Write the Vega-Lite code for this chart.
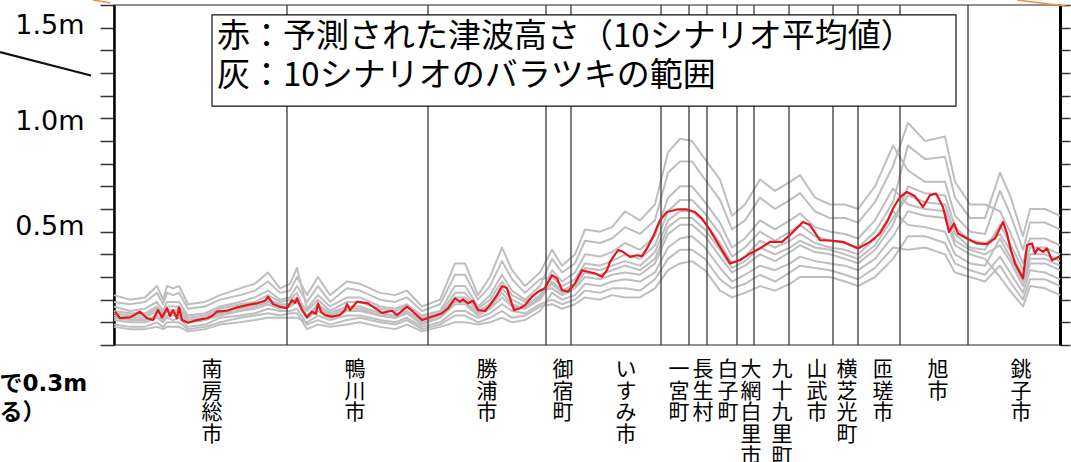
{
  "$schema": "https://vega.github.io/schema/vega-lite/v6.json",
  "width": 946,
  "height": 340,
  "autosize": {"type": "none"},
  "padding": {"left": 114, "top": 5, "right": 11, "bottom": 117},
  "background": "white",
  "config": {"view": {"stroke": "#6e6e6e", "strokeWidth": 1.5}},
  "datasets": {
    "scenarios": [
      {"x": 0, "s1": 0.22, "s2": 0.19, "s3": 0.17, "s4": 0.15, "s5": 0.14, "s6": 0.13, "s7": 0.12, "s8": 0.11, "s9": 0.09, "s10": 0.08},
      {"x": 16, "s1": 0.20, "s2": 0.18, "s3": 0.15, "s4": 0.14, "s5": 0.13, "s6": 0.12, "s7": 0.11, "s8": 0.10, "s9": 0.08, "s10": 0.07},
      {"x": 31, "s1": 0.21, "s2": 0.19, "s3": 0.16, "s4": 0.14, "s5": 0.13, "s6": 0.12, "s7": 0.11, "s8": 0.10, "s9": 0.08, "s10": 0.07},
      {"x": 43, "s1": 0.26, "s2": 0.23, "s3": 0.19, "s4": 0.17, "s5": 0.16, "s6": 0.15, "s7": 0.13, "s8": 0.12, "s9": 0.10, "s10": 0.08},
      {"x": 49, "s1": 0.20, "s2": 0.18, "s3": 0.15, "s4": 0.14, "s5": 0.13, "s6": 0.12, "s7": 0.11, "s8": 0.10, "s9": 0.08, "s10": 0.07},
      {"x": 53, "s1": 0.26, "s2": 0.23, "s3": 0.19, "s4": 0.17, "s5": 0.16, "s6": 0.15, "s7": 0.13, "s8": 0.12, "s9": 0.10, "s10": 0.08},
      {"x": 59, "s1": 0.25, "s2": 0.22, "s3": 0.19, "s4": 0.17, "s5": 0.15, "s6": 0.14, "s7": 0.13, "s8": 0.11, "s9": 0.10, "s10": 0.08},
      {"x": 65, "s1": 0.26, "s2": 0.23, "s3": 0.19, "s4": 0.17, "s5": 0.16, "s6": 0.15, "s7": 0.13, "s8": 0.12, "s9": 0.10, "s10": 0.08},
      {"x": 74, "s1": 0.18, "s2": 0.16, "s3": 0.13, "s4": 0.12, "s5": 0.11, "s6": 0.10, "s7": 0.10, "s8": 0.08, "s9": 0.07, "s10": 0.06},
      {"x": 91, "s1": 0.19, "s2": 0.17, "s3": 0.14, "s4": 0.13, "s5": 0.12, "s6": 0.11, "s7": 0.11, "s8": 0.09, "s9": 0.08, "s10": 0.07},
      {"x": 106, "s1": 0.22, "s2": 0.20, "s3": 0.17, "s4": 0.16, "s5": 0.15, "s6": 0.14, "s7": 0.13, "s8": 0.12, "s9": 0.10, "s10": 0.09},
      {"x": 126, "s1": 0.25, "s2": 0.22, "s3": 0.19, "s4": 0.18, "s5": 0.16, "s6": 0.15, "s7": 0.15, "s8": 0.13, "s9": 0.12, "s10": 0.10},
      {"x": 141, "s1": 0.27, "s2": 0.24, "s3": 0.21, "s4": 0.19, "s5": 0.18, "s6": 0.17, "s7": 0.16, "s8": 0.14, "s9": 0.13, "s10": 0.11},
      {"x": 154, "s1": 0.32, "s2": 0.28, "s3": 0.24, "s4": 0.22, "s5": 0.20, "s6": 0.19, "s7": 0.18, "s8": 0.16, "s9": 0.14, "s10": 0.12},
      {"x": 166, "s1": 0.25, "s2": 0.23, "s3": 0.20, "s4": 0.19, "s5": 0.18, "s6": 0.17, "s7": 0.16, "s8": 0.15, "s9": 0.13, "s10": 0.12},
      {"x": 176, "s1": 0.27, "s2": 0.24, "s3": 0.21, "s4": 0.20, "s5": 0.18, "s6": 0.17, "s7": 0.17, "s8": 0.15, "s9": 0.14, "s10": 0.12},
      {"x": 183, "s1": 0.34, "s2": 0.30, "s3": 0.26, "s4": 0.23, "s5": 0.21, "s6": 0.20, "s7": 0.19, "s8": 0.16, "s9": 0.14, "s10": 0.12},
      {"x": 193, "s1": 0.16, "s2": 0.22, "s3": 0.19, "s4": 0.12, "s5": 0.15, "s6": 0.12, "s7": 0.13, "s8": 0.09, "s9": 0.07, "s10": 0.10},
      {"x": 204, "s1": 0.22, "s2": 0.30, "s3": 0.26, "s4": 0.17, "s5": 0.20, "s6": 0.15, "s7": 0.18, "s8": 0.11, "s9": 0.09, "s10": 0.13},
      {"x": 216, "s1": 0.17, "s2": 0.22, "s3": 0.19, "s4": 0.13, "s5": 0.15, "s6": 0.12, "s7": 0.14, "s8": 0.09, "s9": 0.08, "s10": 0.11},
      {"x": 233, "s1": 0.21, "s2": 0.28, "s3": 0.25, "s4": 0.16, "s5": 0.19, "s6": 0.15, "s7": 0.17, "s8": 0.11, "s9": 0.09, "s10": 0.13},
      {"x": 246, "s1": 0.21, "s2": 0.27, "s3": 0.24, "s4": 0.16, "s5": 0.19, "s6": 0.15, "s7": 0.17, "s8": 0.12, "s9": 0.10, "s10": 0.13},
      {"x": 266, "s1": 0.17, "s2": 0.23, "s3": 0.20, "s4": 0.13, "s5": 0.16, "s6": 0.13, "s7": 0.14, "s8": 0.10, "s9": 0.08, "s10": 0.11},
      {"x": 281, "s1": 0.16, "s2": 0.22, "s3": 0.19, "s4": 0.12, "s5": 0.15, "s6": 0.12, "s7": 0.13, "s8": 0.09, "s9": 0.07, "s10": 0.10},
      {"x": 293, "s1": 0.18, "s2": 0.24, "s3": 0.21, "s4": 0.14, "s5": 0.17, "s6": 0.14, "s7": 0.15, "s8": 0.11, "s9": 0.09, "s10": 0.12},
      {"x": 308, "s1": 0.13, "s2": 0.17, "s3": 0.15, "s4": 0.10, "s5": 0.12, "s6": 0.09, "s7": 0.11, "s8": 0.07, "s9": 0.06, "s10": 0.08},
      {"x": 326, "s1": 0.15, "s2": 0.20, "s3": 0.18, "s4": 0.12, "s5": 0.14, "s6": 0.12, "s7": 0.13, "s8": 0.09, "s9": 0.08, "s10": 0.10},
      {"x": 341, "s1": 0.26, "s2": 0.36, "s3": 0.31, "s4": 0.19, "s5": 0.23, "s6": 0.18, "s7": 0.21, "s8": 0.13, "s9": 0.10, "s10": 0.15},
      {"x": 351, "s1": 0.26, "s2": 0.36, "s3": 0.31, "s4": 0.19, "s5": 0.23, "s6": 0.18, "s7": 0.21, "s8": 0.13, "s9": 0.10, "s10": 0.15},
      {"x": 364, "s1": 0.17, "s2": 0.22, "s3": 0.20, "s4": 0.14, "s5": 0.16, "s6": 0.13, "s7": 0.15, "s8": 0.10, "s9": 0.09, "s10": 0.12},
      {"x": 376, "s1": 0.22, "s2": 0.30, "s3": 0.26, "s4": 0.17, "s5": 0.20, "s6": 0.16, "s7": 0.18, "s8": 0.12, "s9": 0.10, "s10": 0.14},
      {"x": 388, "s1": 0.31, "s2": 0.43, "s3": 0.37, "s4": 0.23, "s5": 0.28, "s6": 0.21, "s7": 0.25, "s8": 0.15, "s9": 0.12, "s10": 0.18},
      {"x": 398, "s1": 0.24, "s2": 0.33, "s3": 0.29, "s4": 0.18, "s5": 0.22, "s6": 0.17, "s7": 0.20, "s8": 0.12, "s9": 0.10, "s10": 0.15},
      {"x": 411, "s1": 0.20, "s2": 0.26, "s3": 0.23, "s4": 0.16, "s5": 0.19, "s6": 0.16, "s7": 0.17, "s8": 0.13, "s9": 0.11, "s10": 0.14},
      {"x": 426, "s1": 0.26, "s2": 0.32, "s3": 0.29, "s4": 0.21, "s5": 0.24, "s6": 0.20, "s7": 0.22, "s8": 0.17, "s9": 0.15, "s10": 0.18},
      {"x": 438, "s1": 0.38, "s2": 0.42, "s3": 0.30, "s4": 0.33, "s5": 0.25, "s6": 0.28, "s7": 0.27, "s8": 0.18, "s9": 0.23, "s10": 0.20},
      {"x": 448, "s1": 0.32, "s2": 0.35, "s3": 0.26, "s4": 0.28, "s5": 0.22, "s6": 0.24, "s7": 0.23, "s8": 0.16, "s9": 0.20, "s10": 0.18},
      {"x": 461, "s1": 0.36, "s2": 0.40, "s3": 0.29, "s4": 0.32, "s5": 0.25, "s6": 0.27, "s7": 0.26, "s8": 0.18, "s9": 0.22, "s10": 0.20},
      {"x": 471, "s1": 0.46, "s2": 0.51, "s3": 0.36, "s4": 0.40, "s5": 0.30, "s6": 0.34, "s7": 0.32, "s8": 0.21, "s9": 0.27, "s10": 0.24},
      {"x": 486, "s1": 0.45, "s2": 0.50, "s3": 0.35, "s4": 0.39, "s5": 0.29, "s6": 0.33, "s7": 0.31, "s8": 0.20, "s9": 0.26, "s10": 0.23},
      {"x": 498, "s1": 0.47, "s2": 0.52, "s3": 0.37, "s4": 0.41, "s5": 0.31, "s6": 0.35, "s7": 0.33, "s8": 0.22, "s9": 0.28, "s10": 0.25},
      {"x": 511, "s1": 0.52, "s2": 0.59, "s3": 0.40, "s4": 0.45, "s5": 0.32, "s6": 0.37, "s7": 0.35, "s8": 0.21, "s9": 0.29, "s10": 0.25},
      {"x": 526, "s1": 0.49, "s2": 0.55, "s3": 0.38, "s4": 0.42, "s5": 0.31, "s6": 0.35, "s7": 0.33, "s8": 0.21, "s9": 0.28, "s10": 0.24},
      {"x": 541, "s1": 0.55, "s2": 0.62, "s3": 0.44, "s4": 0.48, "s5": 0.36, "s6": 0.41, "s7": 0.38, "s8": 0.25, "s9": 0.32, "s10": 0.29},
      {"x": 554, "s1": 0.76, "s2": 0.85, "s3": 0.59, "s4": 0.65, "s5": 0.49, "s6": 0.55, "s7": 0.52, "s8": 0.33, "s9": 0.43, "s10": 0.38},
      {"x": 566, "s1": 0.81, "s2": 0.91, "s3": 0.64, "s4": 0.70, "s5": 0.53, "s6": 0.59, "s7": 0.56, "s8": 0.36, "s9": 0.47, "s10": 0.42},
      {"x": 578, "s1": 0.81, "s2": 0.90, "s3": 0.64, "s4": 0.70, "s5": 0.53, "s6": 0.59, "s7": 0.56, "s8": 0.37, "s9": 0.48, "s10": 0.42},
      {"x": 591, "s1": 0.73, "s2": 0.82, "s3": 0.58, "s4": 0.63, "s5": 0.48, "s6": 0.54, "s7": 0.51, "s8": 0.33, "s9": 0.43, "s10": 0.38},
      {"x": 606, "s1": 0.64, "s2": 0.73, "s3": 0.49, "s4": 0.54, "s5": 0.39, "s6": 0.45, "s7": 0.42, "s8": 0.24, "s9": 0.34, "s10": 0.29},
      {"x": 618, "s1": 0.51, "s2": 0.57, "s3": 0.39, "s4": 0.43, "s5": 0.32, "s6": 0.36, "s7": 0.34, "s8": 0.21, "s9": 0.28, "s10": 0.25},
      {"x": 631, "s1": 0.55, "s2": 0.62, "s3": 0.43, "s4": 0.47, "s5": 0.35, "s6": 0.39, "s7": 0.37, "s8": 0.23, "s9": 0.31, "s10": 0.27},
      {"x": 646, "s1": 0.65, "s2": 0.73, "s3": 0.50, "s4": 0.55, "s5": 0.40, "s6": 0.46, "s7": 0.43, "s8": 0.26, "s9": 0.35, "s10": 0.31},
      {"x": 661, "s1": 0.60, "s2": 0.68, "s3": 0.46, "s4": 0.51, "s5": 0.37, "s6": 0.43, "s7": 0.40, "s8": 0.24, "s9": 0.33, "s10": 0.28},
      {"x": 676, "s1": 0.64, "s2": 0.72, "s3": 0.50, "s4": 0.55, "s5": 0.41, "s6": 0.46, "s7": 0.43, "s8": 0.27, "s9": 0.36, "s10": 0.32},
      {"x": 686, "s1": 0.67, "s2": 0.75, "s3": 0.53, "s4": 0.58, "s5": 0.44, "s6": 0.49, "s7": 0.46, "s8": 0.30, "s9": 0.39, "s10": 0.35},
      {"x": 701, "s1": 0.59, "s2": 0.65, "s3": 0.48, "s4": 0.52, "s5": 0.41, "s6": 0.45, "s7": 0.43, "s8": 0.30, "s9": 0.37, "s10": 0.34},
      {"x": 716, "s1": 0.56, "s2": 0.62, "s3": 0.46, "s4": 0.50, "s5": 0.40, "s6": 0.43, "s7": 0.42, "s8": 0.30, "s9": 0.36, "s10": 0.33},
      {"x": 731, "s1": 0.56, "s2": 0.62, "s3": 0.45, "s4": 0.49, "s5": 0.38, "s6": 0.42, "s7": 0.40, "s8": 0.28, "s9": 0.35, "s10": 0.31},
      {"x": 744, "s1": 0.54, "s2": 0.60, "s3": 0.43, "s4": 0.47, "s5": 0.36, "s6": 0.40, "s7": 0.38, "s8": 0.26, "s9": 0.33, "s10": 0.29},
      {"x": 761, "s1": 0.63, "s2": 0.70, "s3": 0.50, "s4": 0.55, "s5": 0.42, "s6": 0.47, "s7": 0.44, "s8": 0.30, "s9": 0.38, "s10": 0.34},
      {"x": 779, "s1": 0.79, "s2": 0.88, "s3": 0.63, "s4": 0.69, "s5": 0.53, "s6": 0.59, "s7": 0.56, "s8": 0.38, "s9": 0.48, "s10": 0.43},
      {"x": 794, "s1": 0.98, "s2": 0.77, "s3": 0.88, "s4": 0.62, "s5": 0.70, "s6": 0.53, "s7": 0.66, "s8": 0.48, "s9": 0.59, "s10": 0.42},
      {"x": 811, "s1": 0.90, "s2": 0.72, "s3": 0.82, "s4": 0.60, "s5": 0.67, "s6": 0.52, "s7": 0.63, "s8": 0.48, "s9": 0.57, "s10": 0.43},
      {"x": 831, "s1": 0.92, "s2": 0.72, "s3": 0.83, "s4": 0.59, "s5": 0.66, "s6": 0.50, "s7": 0.62, "s8": 0.45, "s9": 0.56, "s10": 0.40},
      {"x": 841, "s1": 0.72, "s2": 0.57, "s3": 0.65, "s4": 0.46, "s5": 0.52, "s6": 0.40, "s7": 0.49, "s8": 0.36, "s9": 0.44, "s10": 0.32},
      {"x": 856, "s1": 0.62, "s2": 0.50, "s3": 0.56, "s4": 0.42, "s5": 0.46, "s6": 0.36, "s7": 0.43, "s8": 0.33, "s9": 0.40, "s10": 0.30},
      {"x": 871, "s1": 0.62, "s2": 0.49, "s3": 0.56, "s4": 0.40, "s5": 0.45, "s6": 0.35, "s7": 0.42, "s8": 0.31, "s9": 0.38, "s10": 0.28},
      {"x": 886, "s1": 0.59, "s2": 0.68, "s3": 0.76, "s4": 0.44, "s5": 0.49, "s6": 0.47, "s7": 0.53, "s8": 0.39, "s9": 0.30, "s10": 0.35},
      {"x": 896, "s1": 0.50, "s2": 0.58, "s3": 0.66, "s4": 0.37, "s5": 0.42, "s6": 0.39, "s7": 0.45, "s8": 0.32, "s9": 0.24, "s10": 0.28},
      {"x": 909, "s1": 0.36, "s2": 0.42, "s3": 0.48, "s4": 0.26, "s5": 0.30, "s6": 0.28, "s7": 0.33, "s8": 0.23, "s9": 0.17, "s10": 0.20},
      {"x": 916, "s1": 0.47, "s2": 0.54, "s3": 0.60, "s4": 0.36, "s5": 0.40, "s6": 0.38, "s7": 0.43, "s8": 0.33, "s9": 0.26, "s10": 0.29},
      {"x": 931, "s1": 0.47, "s2": 0.54, "s3": 0.60, "s4": 0.36, "s5": 0.40, "s6": 0.38, "s7": 0.43, "s8": 0.32, "s9": 0.25, "s10": 0.29},
      {"x": 946, "s1": 0.44, "s2": 0.51, "s3": 0.57, "s4": 0.33, "s5": 0.37, "s6": 0.35, "s7": 0.40, "s8": 0.29, "s9": 0.22, "s10": 0.26}
    ],
    "mean": [
      {"x": 1, "v": 0.147}, {"x": 6, "v": 0.118}, {"x": 16, "v": 0.122}, {"x": 26, "v": 0.147},
      {"x": 33, "v": 0.118}, {"x": 39, "v": 0.110}, {"x": 44, "v": 0.154}, {"x": 48, "v": 0.122},
      {"x": 53, "v": 0.162}, {"x": 56, "v": 0.128}, {"x": 59, "v": 0.154}, {"x": 63, "v": 0.118},
      {"x": 65, "v": 0.166}, {"x": 68, "v": 0.110}, {"x": 74, "v": 0.098}, {"x": 83, "v": 0.110},
      {"x": 93, "v": 0.118}, {"x": 98, "v": 0.128}, {"x": 103, "v": 0.147}, {"x": 113, "v": 0.151},
      {"x": 123, "v": 0.166}, {"x": 133, "v": 0.176}, {"x": 143, "v": 0.184}, {"x": 151, "v": 0.195},
      {"x": 154, "v": 0.213}, {"x": 159, "v": 0.181}, {"x": 166, "v": 0.169}, {"x": 173, "v": 0.162},
      {"x": 178, "v": 0.198}, {"x": 181, "v": 0.186}, {"x": 183, "v": 0.206}, {"x": 188, "v": 0.154},
      {"x": 193, "v": 0.122}, {"x": 198, "v": 0.147}, {"x": 202, "v": 0.137}, {"x": 204, "v": 0.184},
      {"x": 207, "v": 0.147}, {"x": 211, "v": 0.132}, {"x": 218, "v": 0.125}, {"x": 226, "v": 0.132},
      {"x": 231, "v": 0.154}, {"x": 233, "v": 0.181}, {"x": 236, "v": 0.154}, {"x": 243, "v": 0.191},
      {"x": 254, "v": 0.184}, {"x": 268, "v": 0.142}, {"x": 278, "v": 0.151}, {"x": 283, "v": 0.132},
      {"x": 293, "v": 0.169}, {"x": 299, "v": 0.147}, {"x": 308, "v": 0.110}, {"x": 318, "v": 0.125},
      {"x": 328, "v": 0.140}, {"x": 334, "v": 0.162}, {"x": 341, "v": 0.206}, {"x": 346, "v": 0.191},
      {"x": 349, "v": 0.201}, {"x": 354, "v": 0.184}, {"x": 359, "v": 0.195}, {"x": 364, "v": 0.154},
      {"x": 371, "v": 0.150}, {"x": 376, "v": 0.176}, {"x": 383, "v": 0.220}, {"x": 388, "v": 0.260},
      {"x": 393, "v": 0.250}, {"x": 396, "v": 0.206}, {"x": 400, "v": 0.154}, {"x": 406, "v": 0.162},
      {"x": 411, "v": 0.176}, {"x": 418, "v": 0.213}, {"x": 424, "v": 0.235}, {"x": 431, "v": 0.250},
      {"x": 438, "v": 0.308}, {"x": 443, "v": 0.294}, {"x": 448, "v": 0.242}, {"x": 454, "v": 0.235},
      {"x": 461, "v": 0.272}, {"x": 468, "v": 0.330}, {"x": 474, "v": 0.323}, {"x": 481, "v": 0.316},
      {"x": 488, "v": 0.301}, {"x": 493, "v": 0.330}, {"x": 496, "v": 0.367}, {"x": 504, "v": 0.419},
      {"x": 509, "v": 0.411}, {"x": 516, "v": 0.389}, {"x": 523, "v": 0.396}, {"x": 528, "v": 0.392},
      {"x": 533, "v": 0.426}, {"x": 539, "v": 0.477}, {"x": 546, "v": 0.551}, {"x": 553, "v": 0.587},
      {"x": 563, "v": 0.598}, {"x": 573, "v": 0.598}, {"x": 581, "v": 0.587}, {"x": 588, "v": 0.558},
      {"x": 596, "v": 0.507}, {"x": 606, "v": 0.433}, {"x": 616, "v": 0.360}, {"x": 626, "v": 0.374},
      {"x": 636, "v": 0.404}, {"x": 646, "v": 0.426}, {"x": 656, "v": 0.455}, {"x": 668, "v": 0.455},
      {"x": 676, "v": 0.485}, {"x": 684, "v": 0.521}, {"x": 689, "v": 0.543}, {"x": 696, "v": 0.529},
      {"x": 706, "v": 0.463}, {"x": 716, "v": 0.461}, {"x": 729, "v": 0.455}, {"x": 736, "v": 0.441},
      {"x": 744, "v": 0.426}, {"x": 756, "v": 0.455}, {"x": 766, "v": 0.492}, {"x": 774, "v": 0.551},
      {"x": 779, "v": 0.602}, {"x": 786, "v": 0.653}, {"x": 793, "v": 0.675}, {"x": 801, "v": 0.656},
      {"x": 809, "v": 0.609}, {"x": 816, "v": 0.661}, {"x": 822, "v": 0.668}, {"x": 829, "v": 0.609},
      {"x": 835, "v": 0.499}, {"x": 840, "v": 0.536}, {"x": 844, "v": 0.492}, {"x": 853, "v": 0.470},
      {"x": 863, "v": 0.448}, {"x": 873, "v": 0.445}, {"x": 881, "v": 0.470}, {"x": 889, "v": 0.543},
      {"x": 893, "v": 0.492}, {"x": 896, "v": 0.433}, {"x": 901, "v": 0.360}, {"x": 909, "v": 0.294},
      {"x": 913, "v": 0.441}, {"x": 918, "v": 0.448}, {"x": 921, "v": 0.404}, {"x": 924, "v": 0.426},
      {"x": 929, "v": 0.411}, {"x": 933, "v": 0.426}, {"x": 938, "v": 0.374}, {"x": 946, "v": 0.392}
    ],
    "borders": [
      {"x": 173}, {"x": 314}, {"x": 432}, {"x": 457}, {"x": 547}, {"x": 575}, {"x": 593},
      {"x": 623}, {"x": 640}, {"x": 675}, {"x": 719}, {"x": 744}, {"x": 786}, {"x": 854}
    ],
    "towns": [
      {"x": 98, "town": "南\n房\n総\n市"},
      {"x": 241, "town": "鴨\n川\n市"},
      {"x": 373, "town": "勝\n浦\n市"},
      {"x": 449, "town": "御\n宿\n町"},
      {"x": 512, "town": "い\nす\nみ\n市"},
      {"x": 565, "town": "一\n宮\n町"},
      {"x": 589, "town": "長\n生\n村"},
      {"x": 614, "town": "白\n子\n町"},
      {"x": 637, "town": "大\n網\n白\n里\n市"},
      {"x": 668, "town": "九\n十\n九\n里\n町"},
      {"x": 703, "town": "山\n武\n市"},
      {"x": 733, "town": "横\n芝\n光\n町"},
      {"x": 769, "town": "匝\n瑳\n市"},
      {"x": 824, "town": "旭\n市"},
      {"x": 907, "town": "銚\n子\n市"}
    ]
  },
  "resolve": {"axis": {"y": "independent"}},
  "layer": [
    {
      "data": {"name": "scenarios"},
      "transform": [{"fold": ["s1", "s2", "s3", "s4", "s5", "s6", "s7", "s8", "s9", "s10"], "as": ["scenario", "v"]}],
      "mark": {"type": "line", "strokeWidth": 2, "strokeJoin": "round"},
      "encoding": {
        "x": {"field": "x", "type": "quantitative", "scale": {"domain": [0, 946], "nice": false, "zero": false},
              "axis": {"orient": "bottom", "domain": true, "domainColor": "#222", "domainWidth": 2, "ticks": false, "labels": false, "grid": false, "title": null}},
        "y": {"field": "v", "type": "quantitative", "scale": {"domain": [0, 1.5], "nice": false, "zero": true},
              "axis": {
                "orient": "left",
                "values": [0, 0.1, 0.2, 0.3, 0.4, 0.5, 0.6, 0.7, 0.8, 0.9, 1, 1.1, 1.2, 1.3, 1.4, 1.5],
                "labelExpr": "datum.value == 0.5 || datum.value == 1 || datum.value == 1.5 ? format(datum.value, '.1f') + 'm' : ''",
                "labelOffset": {"condition": [
                  {"test": "datum.value == 1.5", "value": 20},
                  {"test": "datum.value == 1", "value": 3},
                  {"test": "datum.value == 0.5", "value": -5}
                ], "value": 0},
                "labelFont": "DejaVu Sans", "labelFontSize": 27, "labelColor": "#000", "labelPadding": 16,
                "tickSize": 14, "tickColor": "#333", "tickWidth": 1.5,
                "domainColor": "#000", "domainWidth": 2.5, "grid": false,
                "title": ["で0.3m", "る）"],
                "titleAngle": 0, "titleAlign": "left", "titleBaseline": "top",
                "titleX": -115, "titleY": 367,
                "titleFont": "DejaVu Sans, Noto Sans CJK JP", "titleFontWeight": "bold", "titleFontSize": 23,
                "titleLineHeight": 29, "titleColor": "#000"
              }},
        "detail": {"field": "scenario"},
        "color": {
          "datum": "灰：10シナリオのバラツキの範囲", "type": "nominal",
          "scale": {"domain": ["赤：予測された津波高さ（10シナリオ平均値）", "灰：10シナリオのバラツキの範囲"], "range": ["#e8141c", "#bebebe"]},
          "legend": {
            "orient": "none", "legendX": 70, "legendY": 15, "title": null,
            "labelFont": "Noto Sans CJK JP", "labelFontSize": 33, "labelColor": "#000", "labelLimit": 0,
            "symbolOpacity": 0, "symbolSize": 0, "symbolStrokeWidth": 0, "labelOffset": 0,
            "rowPadding": 5, "padding": 0
          }
        }
      }
    },
    {
      "data": {"name": "borders"},
      "mark": {"type": "rule", "color": "#3a3a3a", "strokeWidth": 1.3},
      "encoding": {"x": {"field": "x", "type": "quantitative", "axis": null}}
    },
    {
      "data": {"name": "mean"},
      "mark": {"type": "line", "strokeWidth": 2.2, "strokeJoin": "round"},
      "encoding": {
        "x": {"field": "x", "type": "quantitative", "axis": null},
        "y": {"field": "v", "type": "quantitative",
              "axis": {"orient": "right", "values": [0, 0.1, 0.2, 0.3, 0.4, 0.5, 0.6, 0.7, 0.8, 0.9, 1, 1.1, 1.2, 1.3, 1.4, 1.5],
                       "labels": false, "tickSize": 10, "tickColor": "#333", "tickWidth": 1.5,
                       "domainColor": "#000", "domainWidth": 3, "grid": false, "title": null}},
        "color": {"datum": "赤：予測された津波高さ（10シナリオ平均値）", "type": "nominal"}
      }
    },
    {
      "data": {"values": [{}]},
      "mark": {"type": "rect", "fill": "white", "stroke": "#111", "strokeWidth": 1.2},
      "encoding": {
        "x": {"datum": 98, "type": "quantitative", "axis": null},
        "x2": {"datum": 842},
        "y": {"datum": 1.456, "type": "quantitative", "axis": null},
        "y2": {"datum": 1.054}
      }
    },
    {
      "data": {"name": "towns"},
      "mark": {"type": "text", "align": "center", "baseline": "top", "dy": 14, "font": "Noto Sans CJK JP",
               "fontSize": 21, "lineHeight": 21.7, "lineBreak": "\n", "color": "#000"},
      "encoding": {
        "x": {"field": "x", "type": "quantitative", "axis": null},
        "y": {"datum": 0, "type": "quantitative", "axis": null},
        "text": {"field": "town"}
      }
    },
    {
      "data": {"values": [{}]},
      "mark": {"type": "rule", "color": "#111", "strokeWidth": 2.2},
      "encoding": {
        "x": {"datum": -114, "type": "quantitative", "axis": null},
        "x2": {"datum": -23},
        "y": {"datum": 1.292, "type": "quantitative", "axis": null},
        "y2": {"datum": 1.189}
      }
    },
    {
      "data": {"values": [{}]},
      "mark": {"type": "rule", "color": "#f0913a", "strokeWidth": 1.5},
      "encoding": {
        "x": {"datum": -21, "type": "quantitative", "axis": null},
        "x2": {"datum": -4},
        "y": {"datum": 1.522, "type": "quantitative", "axis": null},
        "y2": {"datum": 1.51}
      }
    },
    {
      "data": {"values": [{}]},
      "mark": {"type": "rule", "color": "#f0913a", "strokeWidth": 1.5},
      "encoding": {
        "x": {"datum": 903, "type": "quantitative", "axis": null},
        "x2": {"datum": 953},
        "y": {"datum": 1.522, "type": "quantitative", "axis": null},
        "y2": {"datum": 1.495}
      }
    }
  ]
}
